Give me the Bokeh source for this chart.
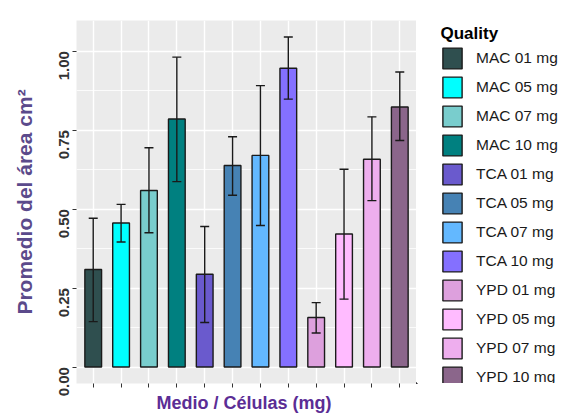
from bokeh.plotting import figure
from bokeh.models import (ColumnDataSource, Range1d, FixedTicker, Whisker, TeeHead,
                          Legend, LegendItem, NumeralTickFormatter, Label)
from bokeh.layouts import row
from bokeh.embed import file_html
from bokeh.resources import INLINE
import math

categories = ["MAC 01 mg", "MAC 05 mg", "MAC 07 mg", "MAC 10 mg",
              "TCA 01 mg", "TCA 05 mg", "TCA 07 mg", "TCA 10 mg",
              "YPD 01 mg", "YPD 05 mg", "YPD 07 mg", "YPD 10 mg"]
means = [0.309, 0.456, 0.559, 0.785, 0.294, 0.638, 0.670, 0.946, 0.157, 0.421, 0.658, 0.823]
lower = [0.144, 0.396, 0.425, 0.587, 0.141, 0.544, 0.448, 0.848, 0.108, 0.215, 0.527, 0.717]
upper = [0.471, 0.515, 0.694, 0.981, 0.445, 0.729, 0.891, 1.045, 0.204, 0.626, 0.792, 0.934]
colors = ["#2F4F4F", "#00FFFF", "#79CDCD", "#008080",
          "#6A5ACD", "#4682B4", "#63B8FF", "#8470FF",
          "#DDA0DD", "#FFBBFF", "#EEAEEE", "#8B668B"]
y_ticks = [0, 0.25, 0.5, 0.75, 1.0]
y_minor = [0.125, 0.375, 0.625, 0.875]
legend_title = "Quality"

xpos = list(range(1, len(categories) + 1))
src = ColumnDataSource(dict(x=xpos, top=means, lower=lower, upper=upper,
                            color=colors, cat=categories))

p = figure(width=416, height=416, output_backend="svg", toolbar_location=None,
           x_range=Range1d(0.4, len(categories) + 0.6), y_range=Range1d(-0.052, 1.097),
           min_border_left=76, min_border_right=0, min_border_top=20, min_border_bottom=33)
p.background_fill_color = "#EBEBEB"
p.border_fill_color = "white"
p.outline_line_color = None

bar_style = dict(fill_color="color", line_color="#1a1a1a", line_width=1.4)
r = p.vbar(x="x", top="top", bottom=0, width=0.6, source=src, **bar_style)

w = Whisker(source=src, base="x", upper="upper", lower="lower",
            line_color="#1a1a1a", line_width=1.4, level="annotation")
w.upper_head = TeeHead(size=9, line_color="#1a1a1a", line_width=1.4)
w.lower_head = TeeHead(size=9, line_color="#1a1a1a", line_width=1.4)
p.add_layout(w)

# grids
p.xgrid.ticker = FixedTicker(ticks=xpos)
p.xgrid.grid_line_color = "white"
p.xgrid.grid_line_width = 1.4
p.ygrid.grid_line_color = "white"
p.ygrid.grid_line_width = 1.4
p.ygrid.minor_grid_line_color = "white"
p.ygrid.minor_grid_line_width = 0.8

# axes
xa = p.xaxis[0]
xa.ticker = FixedTicker(ticks=xpos)
xa.major_label_text_font_size = "0px"
xa.major_label_standoff = 0
xa.axis_line_color = None
xa.major_tick_line_color = "#333333"
xa.major_tick_in = 0
xa.major_tick_out = 4
xa.minor_tick_line_color = None
xa.axis_label = "Medio  / Células (mg)"
xa.axis_label_text_font = "Liberation Sans"
xa.axis_label_text_font_style = "bold"
xa.axis_label_text_font_size = "18px"
xa.axis_label_text_color = "#5B2D95"
xa.axis_label_standoff = 5

ya = p.yaxis[0]
ya.ticker = FixedTicker(ticks=y_ticks, minor_ticks=y_minor)
ya.formatter = NumeralTickFormatter(format="0.00")
ya.major_label_orientation = math.pi / 2
ya.major_label_text_font = "Liberation Sans"
ya.major_label_text_font_style = "bold"
ya.major_label_text_font_size = "15px"
ya.major_label_text_color = "#333333"
ya.major_label_standoff = 8
ya.axis_line_color = None
ya.major_tick_line_color = "#333333"
ya.major_tick_in = 0
ya.major_tick_out = 4
ya.minor_tick_line_color = None
ya.axis_label = "Promedio del área cm²"
ya.axis_label_text_font = "Liberation Sans"
ya.axis_label_text_font_style = "bold"
ya.axis_label_text_font_size = "21px"
ya.axis_label_text_color = "#5B4A8B"
ya.axis_label_standoff = 16

# legend panel: separate figure to the right (its frame is aligned with the main frame);
# its ranges keep the bar renderer out of view so only the legend shows
lp = figure(width=147, height=416, output_backend="svg", toolbar_location=None,
            x_range=Range1d(1000, 1147), y_range=Range1d(1000, 1363),
            min_border_left=0, min_border_right=0, min_border_top=0, min_border_bottom=0)
lp.axis.visible = False
lp.grid.visible = False
lp.outline_line_color = None
lp.background_fill_color = "white"
lp.border_fill_color = "white"
lr = lp.vbar(x="x", top="top", bottom=0, width=0.6, source=src, **bar_style)

items = [LegendItem(label=c, renderers=[lr], index=i) for i, c in enumerate(categories)]
legend = Legend(items=items, location=(24, -7),
                label_text_font="Liberation Sans", label_text_font_size="15.5px",
                label_text_color="#1a1a1a", label_standoff=12,
                glyph_width=24, glyph_height=26, label_height=26, spacing=3,
                padding=0, margin=0, border_line_color=None,
                background_fill_color=None, background_fill_alpha=0)
lp.add_layout(legend)

lp.add_layout(Label(x=1024, y=1350.5, text=legend_title, text_baseline="alphabetic",
                    text_align="left", text_font="Liberation Sans", text_font_style="bold",
                    text_font_size="17px", text_color="black"))

layout = row(p, lp, spacing=0)
open("out.html", "w").write(file_html(layout, INLINE))
